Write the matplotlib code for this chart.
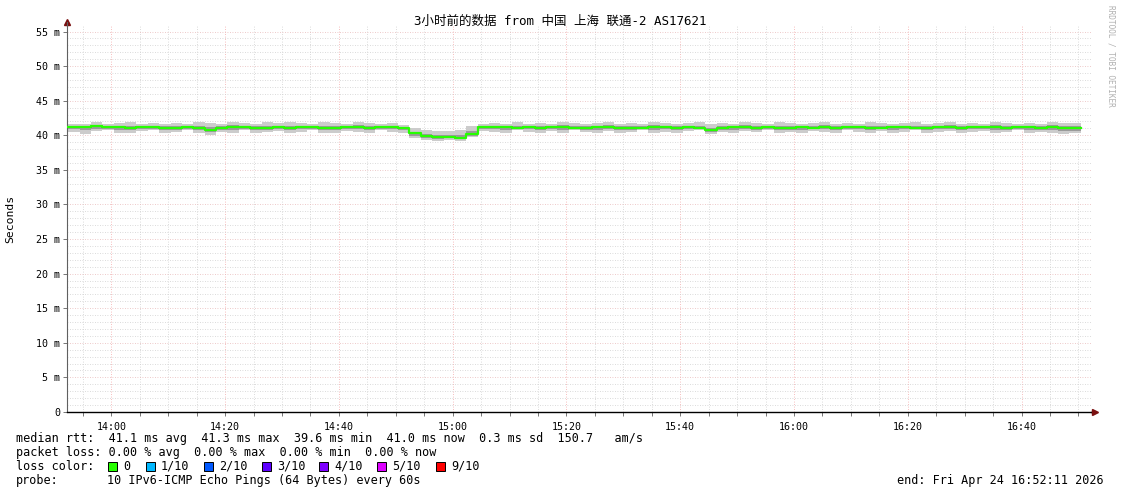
import matplotlib
matplotlib.use('Agg')
import matplotlib.pyplot as plt
from matplotlib.patches import Rectangle
import numpy as np

W, H = 1121, 494

title = '3小时前的数据 from 中国 上海 联通-2 AS17621'

# minutes relative to 14:00, one sample every 2 minutes starting 13:52
start_min = -7.6
step_min = 2.0
view_min, view_max = -7.8, 172.2

median = [41.2, 41.2, 41.3, 41.2, 41.2, 41.1, 41.2, 41.2, 41.1, 41.1,
          41.2, 41.1, 40.8, 41.1, 41.2, 41.2, 41.1, 41.1, 41.2, 41.1,
          41.2, 41.2, 41.1, 41.1, 41.2, 41.2, 41.1, 41.2, 41.2, 41.1,
          40.3, 39.9, 39.8, 39.8, 39.6, 40.2, 41.2, 41.2, 41.2, 41.1,
          41.2, 41.1, 41.2, 41.2, 41.1, 41.1, 41.2, 41.2, 41.1, 41.0,
          41.1, 41.2, 41.2, 41.1, 41.2, 41.1, 40.8, 41.1, 41.2, 41.2,
          41.1, 41.2, 41.1, 41.1, 41.2, 41.1, 41.2, 41.1, 41.2, 41.2,
          41.1, 41.1, 41.2, 41.2, 41.1, 41.1, 41.2, 41.2, 41.1, 41.2,
          41.2, 41.2, 41.1, 41.2, 41.2, 41.1, 41.2, 41.1, 41.0]

smoke_hi = [41.6, 41.7, 41.9, 41.7, 41.8, 41.9, 41.7, 41.8, 41.7, 41.8,
            41.7, 41.9, 41.8, 41.7, 41.9, 41.8, 41.7, 41.9, 41.8, 41.9,
            41.8, 41.7, 41.9, 41.8, 41.7, 41.9, 41.8, 41.7, 41.8, 41.5,
            41.0, 40.7, 40.6, 40.6, 40.7, 41.3, 41.7, 41.8, 41.7, 41.9,
            41.7, 41.8, 41.7, 41.9, 41.8, 41.7, 41.8, 41.9, 41.7, 41.8,
            41.7, 41.9, 41.8, 41.7, 41.8, 41.9, 41.7, 41.8, 41.7, 41.9,
            41.8, 41.7, 41.9, 41.8, 41.7, 41.8, 41.9, 41.7, 41.8, 41.7,
            41.9, 41.8, 41.7, 41.8, 41.9, 41.7, 41.8, 41.9, 41.7, 41.8,
            41.7, 41.9, 41.8, 41.7, 41.8, 41.7, 41.9, 41.8, 41.8]

smoke_lo = [40.5, 40.2, 40.6, 40.7, 40.4, 40.3, 40.6, 40.7, 40.4, 40.5,
            40.7, 40.3, 40.1, 40.5, 40.4, 40.7, 40.3, 40.5, 40.6, 40.4,
            40.5, 40.7, 40.4, 40.3, 40.6, 40.5, 40.4, 40.7, 40.5, 40.3,
            39.6, 39.3, 39.2, 39.3, 39.2, 39.7, 40.6, 40.5, 40.4, 40.7,
            40.5, 40.3, 40.6, 40.4, 40.7, 40.5, 40.3, 40.6, 40.4, 40.5,
            40.7, 40.4, 40.5, 40.3, 40.6, 40.7, 40.2, 40.5, 40.4, 40.6,
            40.5, 40.7, 40.4, 40.5, 40.3, 40.6, 40.5, 40.4, 40.7, 40.5,
            40.4, 40.6, 40.3, 40.5, 40.7, 40.4, 40.5, 40.6, 40.3, 40.5,
            40.6, 40.4, 40.5, 40.7, 40.4, 40.5, 40.3, 40.2, 40.3]

xtick_labels = ['14:00', '14:20', '14:40', '15:00', '15:20', '15:40', '16:00', '16:20', '16:40']
xtick_pos = [0, 20, 40, 60, 80, 100, 120, 140, 160]
ytick_vals = [0, 5, 10, 15, 20, 25, 30, 35, 40, 45, 50, 55]

legend_rtt = 'median rtt:  41.1 ms avg  41.3 ms max  39.6 ms min  41.0 ms now  0.3 ms sd  150.7   am/s'
legend_loss = 'packet loss: 0.00 % avg  0.00 % max  0.00 % min  0.00 % now'
loss_labels = ['0', '1/10', '2/10', '3/10', '4/10', '5/10', '9/10']
loss_colors = ['#26ff00', '#00b8ff', '#0059ff', '#5e00ff', '#7e00ff', '#dd00ff', '#ff0000']
probe_text = '10 IPv6-ICMP Echo Pings (64 Bytes) every 60s'
end_text = 'end: Fri Apr 24 16:52:11 2026'

mono = ['DejaVu Sans Mono', 'Noto Sans CJK SC']
plt.rcParams['font.family'] = mono


def px(x, y):
    return x / W, 1 - y / H


fig = plt.figure(figsize=(W / 100, H / 100), dpi=100, facecolor='white')
x0, x1, yb, yt = 67, 1091, 412, 26
ax = fig.add_axes([x0 / W, 1 - yb / H, (x1 - x0) / W, (yb - yt) / H])

n = len(median)
edges = start_min + step_min * np.arange(n + 1)
med = np.append(median, median[-1])
hi = np.append(smoke_hi, smoke_hi[-1])
lo = np.append(smoke_lo, smoke_lo[-1])
mid_hi = med + 0.35 * (hi - med)
mid_lo = med + 0.5 * (lo - med)

ax.fill_between(edges, lo, hi, step='post', color='#cccccc', lw=0, zorder=2)
ax.fill_between(edges, mid_lo, mid_hi, step='post', color='#9a9a9a', lw=0, zorder=3)
ax.step(edges, med, where='post', color='#26ff00', lw=1.6, zorder=4)

ax.set_xlim(view_min, view_max)
ax.set_ylim(0, 55.8)

# grid
for m in np.arange(-5, 175, 5):
    if m % 20 == 0:
        continue
    ax.axvline(m, color='#cfcfcf', lw=0.6, ls=(0, (1, 2)), zorder=1)
for m in xtick_pos:
    ax.axvline(m, color='#f4a8a8', lw=0.6, ls=(0, (1, 2)), zorder=1)
for v in range(1, 56):
    if v % 5 == 0:
        continue
    ax.axhline(v, color='#cfcfcf', lw=0.6, ls=(0, (1, 2)), zorder=1)
for v in ytick_vals[1:]:
    ax.axhline(v, color='#e8b8b8', lw=0.6, ls=(0, (1, 2)), zorder=1)

ax.set_xticks(xtick_pos)
ax.set_xticklabels(xtick_labels, fontsize=7.2)
ax.set_xticks(np.arange(-5, 175, 5), minor=True)
ax.set_yticks(ytick_vals)
ax.set_yticklabels(['0'] + ['%d m' % v for v in ytick_vals[1:]], fontsize=7.2)
ax.tick_params(axis='both', which='both', length=3, width=0.6, color='#606060', pad=2)
ax.tick_params(axis='x', which='major', pad=4)
ax.set_ylabel('Seconds', fontsize=8.2)
ax.yaxis.set_label_coords((15 - x0) / (x1 - x0), 0.5)
for s in ['top', 'right']:
    ax.spines[s].set_visible(False)
ax.spines['left'].set_color('#606060')
ax.spines['left'].set_linewidth(0.8)
ax.spines['bottom'].set_color('black')
ax.spines['bottom'].set_linewidth(1.0)
ax.set_facecolor('white')

# axis arrows
fig.add_artist(plt.Line2D([px(x1, 0)[0], px(1095, 0)[0]], [px(0, yb)[1], px(0, yb)[1]],
                          color='black', lw=1.0))
fig.add_artist(plt.Line2D([px(1095, 0)[0]], [px(0, yb)[1]], marker='>', color='#7a1010',
                          ms=4, lw=0))
fig.add_artist(plt.Line2D([px(x0, 0)[0]], [px(0, 22)[1]], marker='^', color='#7a1010',
                          ms=4, lw=0))
fig.add_artist(plt.Line2D([px(x0, 0)[0], px(x0, 0)[0]], [px(0, 22)[1], px(0, yt)[1]],
                          color='#606060', lw=0.8))

fig.text(*px(560, 21), title, ha='center', va='center', fontsize=9.0, family=mono)
fig.text(*px(1111, 5), 'RRDTOOL / TOBI OETIKER', ha='center', va='top', rotation=270,
         fontsize=5.6, color='#b0b0b0')

fs = 8.5
fig.text(*px(16, 438), legend_rtt, ha='left', va='center', fontsize=fs)
fig.text(*px(16, 452), legend_loss, ha='left', va='center', fontsize=fs)
fig.text(*px(16, 466), 'loss color:', ha='left', va='center', fontsize=fs)
sq_x = [108, 146, 204, 262, 319, 377, 436]
for sx, lab, col in zip(sq_x, loss_labels, loss_colors):
    fig.add_artist(Rectangle(px(sx, 471), 9 / W, 9 / H, facecolor=col, edgecolor='black',
                             lw=0.7, transform=fig.transFigure))
    fig.text(*px(sx + 15, 466), lab, ha='left', va='center', fontsize=fs)
fig.text(*px(16, 480), 'probe:', ha='left', va='center', fontsize=fs)
fig.text(*px(107, 480), probe_text, ha='left', va='center', fontsize=fs)
fig.text(*px(1104, 480), end_text, ha='right', va='center', fontsize=fs)

fig.savefig('out.png', dpi=100, facecolor='white')
